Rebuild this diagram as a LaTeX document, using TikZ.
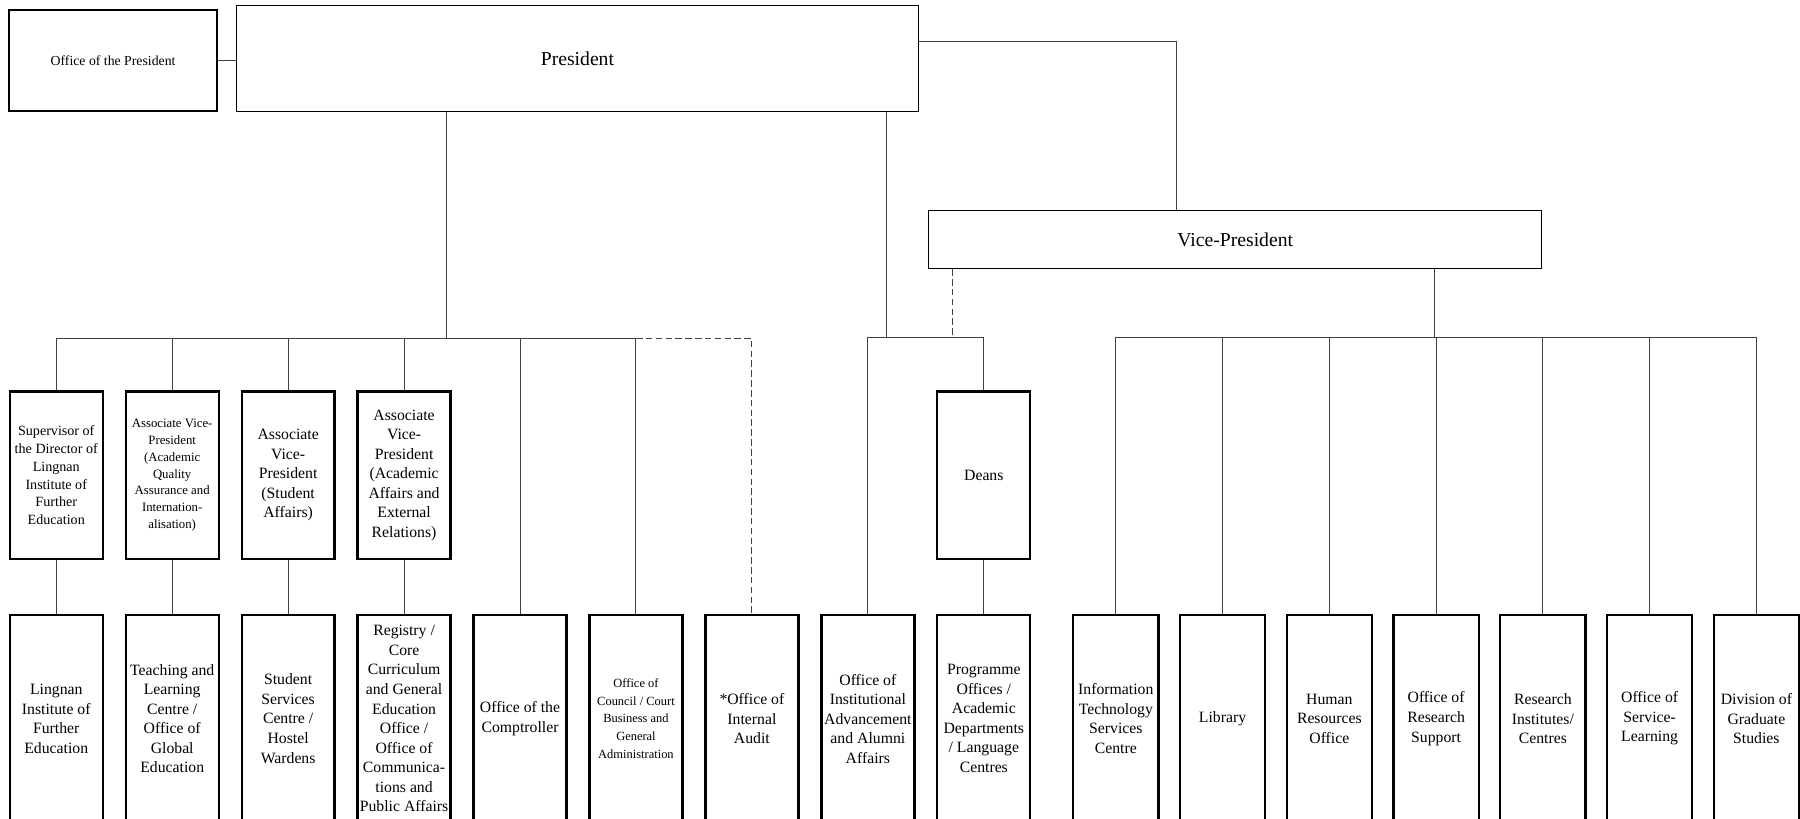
\documentclass[tikz,border=0pt]{standalone}
\usepackage{fontspec}
\setmainfont{Liberation Serif}
\usetikzlibrary{positioning}
\tikzset{
  link/.style={draw=black!75, line width=0.6pt},
  dlink/.style={link, dash pattern=on 4pt off 2pt},
  topbox/.style={draw, rectangle, line width=0.7pt, inner sep=0pt, align=center},
  unit/.style={draw, rectangle, line width=1.4pt, inner sep=0pt, align=center,
    minimum width=56.7pt, minimum height=126pt, font=\fontsize{9.6}{11.9}\selectfont},
  head/.style={unit, minimum height=102.2pt},
  service/.style={unit, minimum width=52pt},
}

\begin{document}
\begin{tikzpicture}[x=0.7pt, y=-0.7pt]
  \clip (0,0) rectangle (1568,713);

  % top level
  \node[topbox, minimum width=415.8pt, minimum height=64.4pt, font=\fontsize{12}{14}\selectfont] (pres) at (503,51) {President};
  \node[topbox, line width=1.4pt, minimum width=126.7pt, minimum height=61.6pt, font=\fontsize{8.4}{10}\selectfont] (offp) at (98.5,53) {Office of the President};
  \node[topbox, minimum width=373.8pt, minimum height=35.7pt, font=\fontsize{12}{14}\selectfont] (vp) at (1076,208.5) {Vice-President};

  % offices under the President
  \begin{scope}[node distance=70.7pt]
  \node[unit] (lif) at (49,626) {Lingnan\\Institute of\\Further\\Education};
  \node[unit, right of=lif] (tlc) {Teaching and\\Learning\\Centre /\\Office of\\Global\\Education};
  \node[unit, right of=tlc] (ssc) {Student\\Services\\Centre /\\Hostel\\Wardens};
  \node[unit, right of=ssc] (reg) {Registry /\\Core\\Curriculum\\and General\\Education\\Office /\\Office of\\Communica-\\tions and\\Public Affairs};
  \node[unit, right of=reg] (comp) {Office of the\\Comptroller};
  \node[unit, right of=comp, font=\fontsize{7.6}{10.8}\selectfont] (coun) {Office of\\Council / Court\\Business and\\General\\Administration};
  \node[unit, right of=coun] (audit) {*Office of\\Internal\\Audit};
  \node[unit, right of=audit] (oiaa) {Office of\\Institutional\\Advancement\\and Alumni\\Affairs};
  \node[unit, right of=oiaa] (prog) {Programme\\Offices /\\Academic\\Departments\\/ Language\\Centres};
  \end{scope}

  % offices under the Vice-President
  \begin{scope}[node distance=65.1pt]
  \node[service] (itsc) at (972,626) {Information\\Technology\\Services\\Centre};
  \node[service, right of=itsc] (lib) {Library};
  \node[service, right of=lib] (hro) {Human\\Resources\\Office};
  \node[service, right of=hro] (ors) {Office of\\Research\\Support};
  \node[service, right of=ors] (ric) {Research\\Institutes/\\Centres};
  \node[service, right of=ric] (osl) {Office of\\Service-\\Learning};
  \node[service, right of=osl] (dgs) {Division of\\Graduate\\Studies};
  \end{scope}

  % heads
  \begin{scope}[node distance=148.4pt]
  \node[head, above of=lif, font=\fontsize{8.6}{10.9}\selectfont] (sup) {Supervisor of\\the Director of\\Lingnan\\Institute of\\Further\\Education};
  \node[head, above of=tlc, font=\fontsize{7.8}{10.2}\selectfont] (aqa) {Associate Vice-\\President\\(Academic\\Quality\\Assurance and\\Internation-\\alisation)};
  \node[head, above of=ssc] (sa) {Associate\\Vice-\\President\\(Student\\Affairs)};
  \node[head, above of=reg] (aa) {Associate\\Vice-\\President\\(Academic\\Affairs and\\External\\Relations)};
  \node[head, above of=prog] (deans) {Deans};
  \end{scope}

  \coordinate (busL) at (389,295);
  \coordinate (busM) at (772,294);
  \coordinate (busR) at (1250,294);
  \coordinate (vpd) at (830,294);
  \coordinate (vpin) at (1025,36);

  % connectors
  \draw[link] (offp.east) -- (offp.east -| pres.west);
  \draw[link] (pres.east |- vpin) -- (vpin) -- (vp.north -| vpin);

  \draw[link] (pres.south -| busL) -- (busL);
  \draw[link] (sup.north) |- (coun.north |- busL) -- (coun.north);
  \foreach \n in {aqa, sa, aa, comp}
    \draw[link] (\n.north) -- (\n.north |- busL);
  \draw[dlink] (coun.north |- busL) -| (audit.north);

  \draw[link] (pres.south -| busM) -- (busM);
  \draw[link] (oiaa.north) |- (busM) -| (deans.north);
  \draw[dlink] (vp.south -| vpd) -- (vpd);

  \draw[link] (vp.south -| busR) -- (busR);
  \draw[link] (itsc.north) |- (busR) -| (dgs.north);
  \foreach \n in {lib, hro, ors, ric, osl}
    \draw[link] (\n.north) -- (\n.north |- busR);

  \foreach \a/\b in {sup/lif, aqa/tlc, sa/ssc, aa/reg, deans/prog}
    \draw[link] (\a) -- (\b);
\end{tikzpicture}
\end{document}
